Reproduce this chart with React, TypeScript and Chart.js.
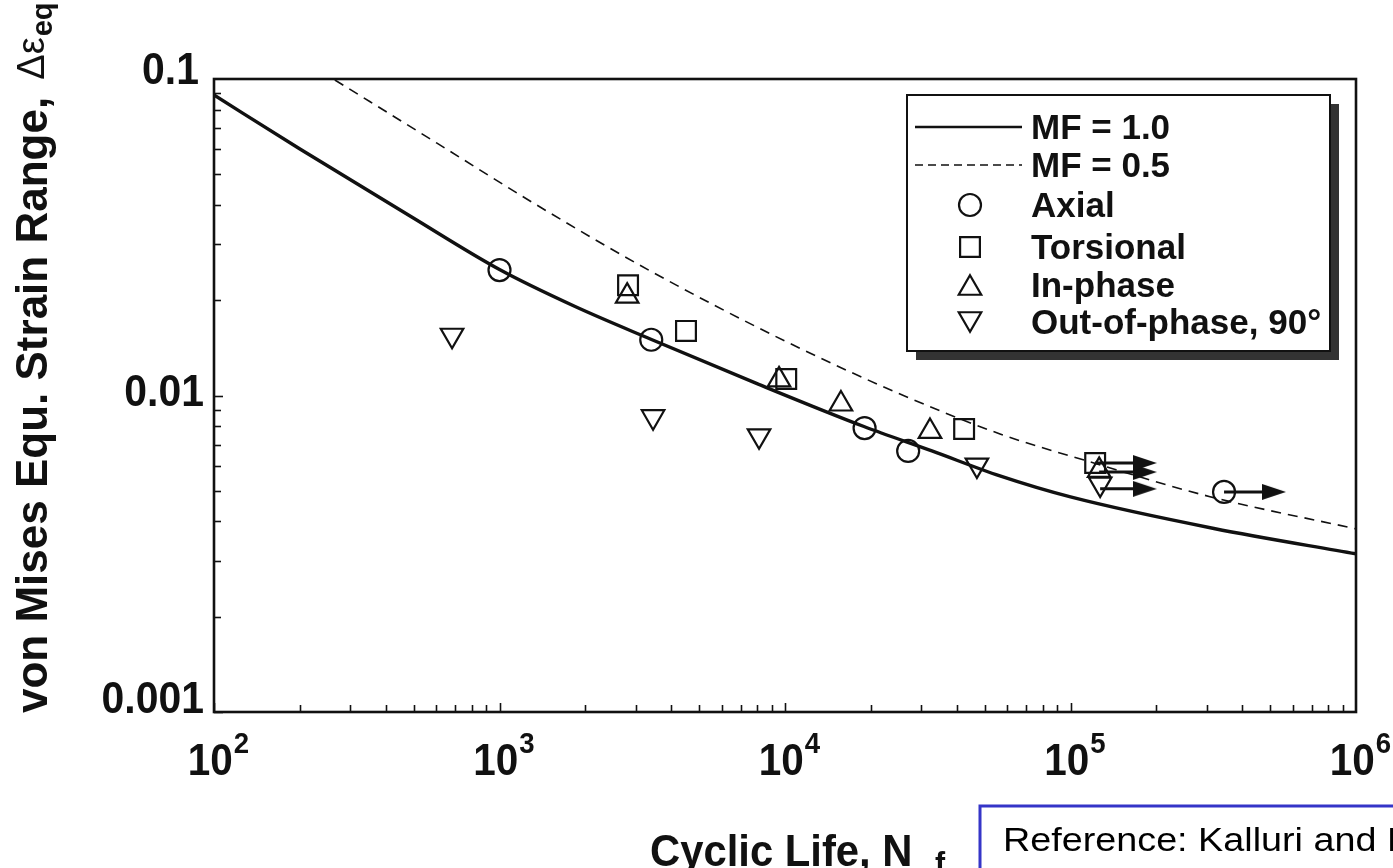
import React, { useEffect, useRef } from "react";
import { Chart, registerables } from "chart.js";

Chart.register(...registerables);

// ---- Axis ticks ----
const xMajorTicks = [1e2, 1e3, 1e4, 1e5, 1e6];
const xTickExponents = ["2", "3", "4", "5", "6"];
const yMajorTicks = [0.1, 0.01, 0.001];
const yTickLabels = ["0.1", "0.01", "0.001"];
const minorMultipliers = [2, 3, 4, 5, 6, 7, 8, 9];

// ---- Curves ----
const mf10Life = [100, 200, 486, 1000, 1840, 3390, 7980, 18900, 32700, 56600, 100000, 318000, 1000000];
const mf10Strain = [0.089, 0.0601, 0.0369, 0.025, 0.0191, 0.01506, 0.0109, 0.00798, 0.00668, 0.00557, 0.00478, 0.0038, 0.00316];

const mf05Life = [265, 604, 1387, 3366, 10080, 25280, 56640, 119900, 308000, 1000000];
const mf05Strain = [0.0993, 0.0627, 0.0394, 0.02477, 0.01481, 0.01011, 0.00756, 0.00613, 0.00479, 0.00379];

// ---- Test data ----
const axialLife = [1000, 3400, 19000, 27000, 345000];
const axialStrain = [0.0249, 0.015, 0.00789, 0.00668, 0.00496];

const torsionalLife = [2820, 4500, 10100, 42400, 122000];
const torsionalStrain = [0.0223, 0.016, 0.01127, 0.00784, 0.00612];

const inPhaseLife = [2800, 9530, 15700, 32200, 126000];
const inPhaseStrain = [0.0206, 0.0112, 0.0094, 0.0077, 0.0058];

const outPhaseLife = [682, 3450, 8110, 47000, 127000];
const outPhaseStrain = [0.0155, 0.00857, 0.00746, 0.00603, 0.00525];

// ---- Run-outs (arrows) ----
const runoutLife = [122000, 126000, 127000, 345000];
const runoutEndLife = [182000, 182000, 182000, 516000];
const runoutStrain = [0.00612, 0.00573, 0.00507, 0.00496];

// ---- Legend ----
const legendLabels = ["MF = 1.0", "MF = 0.5", "Axial", "Torsional", "In-phase", "Out-of-phase, 90°"];

const INK = "#111111";
const SANS = "'Liberation Sans', Arial, Helvetica, sans-serif";

function pts(xs: number[], ys: number[]) {
  return xs.map((x, i) => ({ x, y: ys[i] }));
}

function drawText(
  ctx: CanvasRenderingContext2D,
  text: string,
  x: number,
  y: number,
  font: string,
  align: CanvasTextAlign,
  baseline: CanvasTextBaseline,
  sx = 1
) {
  ctx.save();
  ctx.font = font;
  ctx.textAlign = align;
  ctx.textBaseline = baseline;
  ctx.translate(x, y);
  ctx.scale(sx, 1);
  ctx.fillText(text, 0, 0);
  ctx.restore();
}

function marker(ctx: CanvasRenderingContext2D, kind: string, x: number, y: number) {
  ctx.save();
  ctx.strokeStyle = INK;
  ctx.lineWidth = 2.2;
  ctx.beginPath();
  if (kind === "circle") {
    ctx.arc(x, y, 11, 0, Math.PI * 2);
  } else if (kind === "rect") {
    const s = 14 * Math.SQRT1_2;
    ctx.rect(x - s, y - s, 2 * s, 2 * s);
  } else {
    const r = 13;
    const dir = kind === "tri" ? 1 : -1;
    const cy = y + (dir * r) / 4;
    for (let k = 0; k < 3; k++) {
      const a = (k * 2 * Math.PI) / 3 + (dir === 1 ? 0 : Math.PI);
      const px = x + Math.sin(a) * r;
      const py = cy - Math.cos(a) * r;
      if (k === 0) ctx.moveTo(px, py);
      else ctx.lineTo(px, py);
    }
    ctx.closePath();
  }
  ctx.stroke();
  ctx.restore();
}

const yLabelShift = [5, 10, 1];
const yLabelRight = [199, 204, 204];

const decorPlugin = {
  id: "decor",
  afterDatasetsDraw(chart: any) {
    const ctx: CanvasRenderingContext2D = chart.ctx;
    const xs = chart.scales.x;
    const ys = chart.scales.y;
    const a = chart.chartArea;

    ctx.save();
    ctx.strokeStyle = INK;
    ctx.fillStyle = INK;

    // minor/major ticks inside (bottom & left)
    ctx.lineWidth = 1.6;
    const xDecades = xMajorTicks.slice(0, -1);
    for (const d of xDecades) {
      for (const m of [1, ...minorMultipliers]) {
        const px = Math.round(xs.getPixelForValue(d * m)) + 0.5;
        ctx.beginPath();
        ctx.moveTo(px, a.bottom);
        ctx.lineTo(px, a.bottom - (m === 1 ? 9 : 7));
        ctx.stroke();
      }
    }
    const yDecades = [0.001, 0.01];
    for (const d of yDecades) {
      for (const m of [1, ...minorMultipliers]) {
        const py = Math.round(ys.getPixelForValue(d * m)) + 0.5;
        ctx.beginPath();
        ctx.moveTo(a.left, py);
        ctx.lineTo(a.left + (m === 1 ? 9 : 7), py);
        ctx.stroke();
      }
    }

    // frame
    ctx.lineWidth = 2.6;
    ctx.strokeRect(a.left, a.top, a.right - a.left, a.bottom - a.top);

    // y tick labels
    yMajorTicks.forEach((v, i) => {
      const py = ys.getPixelForValue(v);
      drawText(ctx, yTickLabels[i], yLabelRight[i], py + yLabelShift[i], `bold 44px ${SANS}`, "right", "alphabetic", 0.93);
    });

    // x tick labels: 10 with superscript
    xMajorTicks.forEach((v, i) => {
      const px = xs.getPixelForValue(v);
      ctx.font = `bold 44px ${SANS}`;
      const wBase = ctx.measureText("10").width * 0.92;
      ctx.font = `bold 30px ${SANS}`;
      const wExp = ctx.measureText(xTickExponents[i]).width * 0.92;
      const start = px + 4 - (wBase + wExp) / 2;
      drawText(ctx, "10", start, 775, `bold 44px ${SANS}`, "left", "alphabetic", 0.92);
      drawText(ctx, xTickExponents[i], start + wBase + 1, 753, `bold 30px ${SANS}`, "left", "alphabetic", 0.92);
    });

    // x title
    drawText(ctx, "Cyclic Life, N", 650, 866, `bold 44px ${SANS}`, "left", "alphabetic", 0.95);
    drawText(ctx, "f", 935, 874, `bold 32px ${SANS}`, "left", "alphabetic", 0.95);

    // y title (rotated)
    ctx.save();
    ctx.translate(47, 713);
    ctx.rotate(-Math.PI / 2);
    ctx.textBaseline = "alphabetic";
    ctx.textAlign = "left";
    ctx.font = `bold 44px ${SANS}`;
    const t1 = "von Mises Equ. Strain Range, ";
    ctx.fillText(t1, 0, 0);
    let off = ctx.measureText(t1).width + 5;
    ctx.font = `38px ${SANS}`;
    ctx.fillText("\u0394\u03b5", off, -3);
    off += ctx.measureText("\u0394\u03b5").width;
    ctx.font = `bold 29px ${SANS}`;
    ctx.fillText("eq", off + 1, 5);
    ctx.restore();

    // legend box with shadow
    const L = { x: 907, y: 95, w: 423, h: 256 };
    ctx.fillStyle = "#333333";
    ctx.fillRect(L.x + 9, L.y + 9, L.w, L.h);
    ctx.fillStyle = "#ffffff";
    ctx.fillRect(L.x, L.y, L.w, L.h);
    ctx.strokeStyle = INK;
    ctx.lineWidth = 2;
    ctx.strokeRect(L.x, L.y, L.w, L.h);

    const rowY = [127, 165, 205, 247, 285, 322];
    ctx.fillStyle = INK;
    ctx.lineWidth = 2.4;
    ctx.beginPath();
    ctx.moveTo(915, rowY[0]);
    ctx.lineTo(1022, rowY[0]);
    ctx.stroke();
    ctx.lineWidth = 1.5;
    ctx.setLineDash([8, 5]);
    ctx.beginPath();
    ctx.moveTo(915, rowY[1]);
    ctx.lineTo(1022, rowY[1]);
    ctx.stroke();
    ctx.setLineDash([]);
    marker(ctx, "circle", 970, rowY[2]);
    marker(ctx, "rect", 970, rowY[3]);
    marker(ctx, "tri", 970, rowY[4]);
    marker(ctx, "itri", 970, rowY[5]);
    legendLabels.forEach((lab, i) => {
      drawText(ctx, lab, 1031, rowY[i] + 12, `bold 35px ${SANS}`, "left", "alphabetic", 1);
    });

    // reference box
    ctx.strokeStyle = "#3535c8";
    ctx.lineWidth = 3;
    ctx.strokeRect(980, 806, 600, 120);
    ctx.fillStyle = "#000";
    drawText(ctx, "Reference: Kalluri and Bonacuse", 1003, 851, `34px ${SANS}`, "left", "alphabetic", 1.11);

    ctx.restore();
  },
};

function makeArrowHead(): HTMLCanvasElement {
  const c = document.createElement("canvas");
  c.width = 24;
  c.height = 16;
  const g = c.getContext("2d")!;
  g.fillStyle = INK;
  g.beginPath();
  g.moveTo(0, 0);
  g.lineTo(24, 8);
  g.lineTo(0, 16);
  g.closePath();
  g.fill();
  return c;
}

export default function App() {
  const ref = useRef<HTMLCanvasElement>(null);

  useEffect(() => {
    document.body.style.margin = "0";
    const head = makeArrowHead();
    const markerBase = {
      showLine: false,
      borderColor: INK,
      backgroundColor: "rgba(0,0,0,0)",
      pointBorderWidth: 2.2,
    };
    const arrowSets = runoutLife.map((x0, i) => ({
      type: "scatter" as const,
      data: [
        { x: x0, y: runoutStrain[i] },
        { x: runoutEndLife[i], y: runoutStrain[i] },
      ],
      showLine: true,
      borderColor: INK,
      borderWidth: 3,
      pointRadius: [0, 10],
      pointStyle: head as any,
      pointBackgroundColor: INK,
    }));

    const chart = new Chart(ref.current!, {
      type: "scatter",
      data: {
        datasets: [
          {
            data: pts(mf10Life, mf10Strain),
            showLine: true,
            borderColor: INK,
            borderWidth: 3.4,
            pointRadius: 0,
            cubicInterpolationMode: "monotone",
          } as any,
          {
            data: pts(mf05Life, mf05Strain),
            showLine: true,
            borderColor: INK,
            borderWidth: 1.6,
            borderDash: [10, 7],
            pointRadius: 0,
            cubicInterpolationMode: "monotone",
          } as any,
          { ...markerBase, data: pts(axialLife, axialStrain), pointStyle: "circle", pointRadius: 11 },
          { ...markerBase, data: pts(torsionalLife, torsionalStrain), pointStyle: "rect", pointRadius: 14 },
          { ...markerBase, data: pts(inPhaseLife, inPhaseStrain), pointStyle: "triangle", pointRadius: 13 },
          {
            ...markerBase,
            data: pts(outPhaseLife, outPhaseStrain),
            pointStyle: "triangle",
            pointRadius: 13,
            pointRotation: 180,
          },
          ...arrowSets,
        ] as any,
      },
      options: {
        responsive: false,
        animation: false,
        devicePixelRatio: 1,
        layout: { padding: { left: 214, top: 79, right: 37, bottom: 156 } },
        plugins: { legend: { display: false }, tooltip: { enabled: false } },
        scales: {
          x: { type: "logarithmic", min: 100, max: 1e6, display: false },
          y: { type: "logarithmic", min: 0.001, max: 0.1, display: false },
        },
      },
      plugins: [decorPlugin],
    });
    return () => chart.destroy();
  }, []);

  return (
    <div style={{ position: "fixed", left: 0, top: 0, width: 1393, height: 868, background: "#ffffff", overflow: "hidden" }}>
      <canvas ref={ref} width={1393} height={868} style={{ width: 1393, height: 868, display: "block" }} />
    </div>
  );
}
